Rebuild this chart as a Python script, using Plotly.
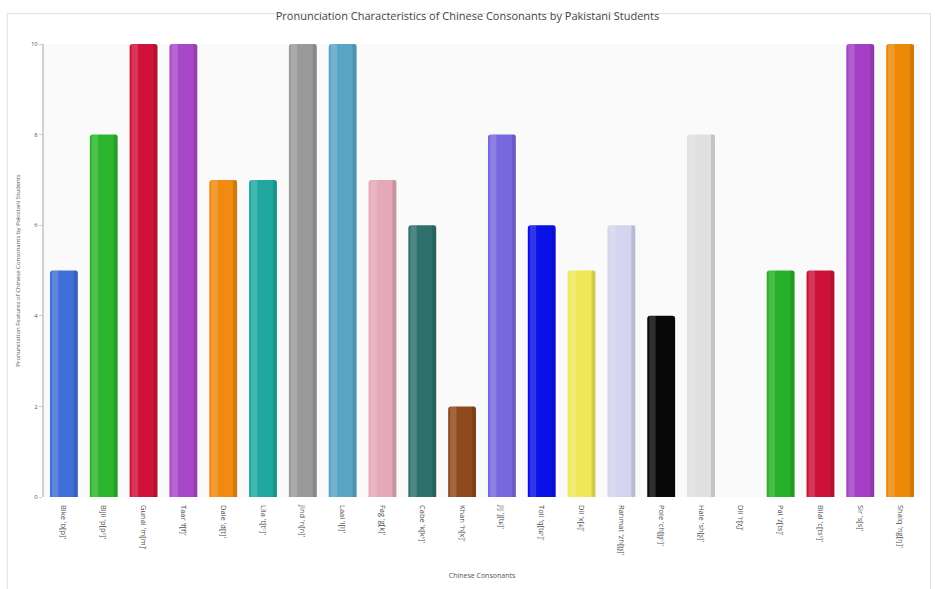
import plotly.graph_objects as go

consonants = ["Bike 'b[p]'", "Bijli 'p[pʰ]'", "Gunai 'm[m]'", "Taar 'f[f]'", "Dale 'd[t]'",
              "Lila 't[tʰ]'", "Jind 'n[n]'", "Laal 'l[l]'", "Fag 'g[k]'", "Cabe 'k[kʰ]'",
              "Khan 'h[x]'", "Jij 'j[tɕ]'", "Toli 'q[tɕʰ]'", "Dil 'x[ɕ]'", "Rahmat 'zh[ʈʂ]'",
              "Pole 'ch[ʈʂʰ]'", "Hale 'sh[ʂ]'", "Dil 'r[ʐ]'", "Pal 'z[ts]'", "Bilal 'c[tsʰ]'",
              "Sir 's[s]'", "Shaiq 'ng[ŋ]'"]
scores = [5, 8, 10, 10, 7, 7, 10, 10, 7, 6, 2, 8, 6, 5, 6, 4, 8, 0, 5, 5, 10, 10]
bar_colors = ["#3f6fd6", "#2cb52c", "#d0123a", "#a848c8", "#f08a10", "#20a8a0", "#9a9a9a",
              "#5aa4c4", "#e4a8b8", "#2e706c", "#8e4a1c", "#7868e0", "#0a10e8", "#f0e858",
              "#d4d4ee", "#080808", "#e0e0e0", "#b0b0b0", "#28b028", "#cc1238", "#a43ec4",
              "#ec8a08"]

fig = go.Figure()
# base bars
fig.add_trace(go.Bar(
    x=consonants, y=scores, width=0.7,
    marker=dict(color=bar_colors, line=dict(width=0), cornerradius=3),
    hoverinfo="x+y",
))
# soft highlight on the left part and shade on the right edge for a rounded look
fig.add_trace(go.Bar(
    x=consonants, y=scores, width=0.16, offset=-0.3,
    marker=dict(color="rgba(255,255,255,0.16)", line=dict(width=0)),
    hoverinfo="skip",
))
fig.add_trace(go.Bar(
    x=consonants, y=scores, width=0.1, offset=0.25,
    marker=dict(color="rgba(0,0,0,0.12)", line=dict(width=0)),
    hoverinfo="skip",
))

fig.update_layout(
    width=935, height=589,
    margin=dict(l=44, r=15, t=44, b=92),
    paper_bgcolor="white",
    plot_bgcolor="#fafafa",
    barmode="overlay",
    showlegend=False,
    title=dict(text="Pronunciation Characteristics of Chinese Consonants by Pakistani Students",
               x=0.5, xanchor="center", y=0.972, yanchor="middle",
               font=dict(family="Open Sans", size=11, color="#444")),
    font=dict(family="Open Sans", color="#555"),
)
fig.update_xaxes(
    tickangle=90, tickfont=dict(size=7.5, color="#4a4a4a"), ticklabelstandoff=7,
    title=dict(text="Chinese Consonants", font=dict(size=7, color="#555"), standoff=18),
    showgrid=False, showline=False, ticks="", automargin=False,
)
fig.update_yaxes(
    range=[0, 10], tickvals=[0, 2, 4, 6, 8, 10], tickfont=dict(size=6, color="#555"),
    title=dict(text="Pronunciation Features of Chinese Consonants by Pakistani Students",
               font=dict(size=6, color="#555"), standoff=10),
    showgrid=False, showline=True, linecolor="#d0d0d0", linewidth=2,
    ticks="outside", ticklen=3, tickcolor="#ccc", zeroline=False,
)
fig.add_shape(type="rect", xref="paper", yref="paper", x0=-0.042, x1=1.012, y0=-0.25, y1=1.067,
              line=dict(color="#e0e0e0", width=1), fillcolor="rgba(0,0,0,0)", layer="below")

fig.write_html("out.html")
